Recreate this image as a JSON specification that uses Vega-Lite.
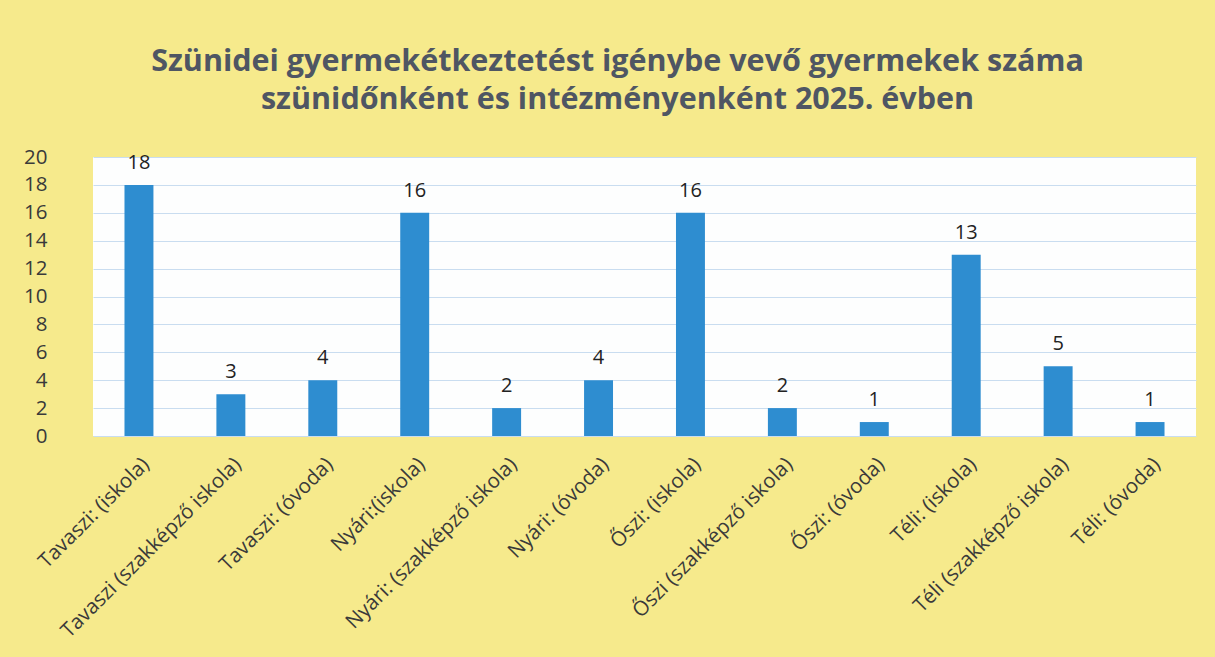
{
  "$schema": "https://vega.github.io/schema/vega-lite/v6.json",
  "width": 1103,
  "height": 279,
  "autosize": {"type": "none"},
  "padding": {"left": 93, "top": 157, "right": 19, "bottom": 221},
  "background": "#F6EA8C",
  "title": {
    "text": ["Szünidei gyermekétkeztetést igénybe vevő gyermekek száma", "szünidőnként és intézményenként 2025. évben"],
    "font": "Open Sans",
    "fontSize": 30.5,
    "fontWeight": "bold",
    "color": "#4F5663",
    "lineHeight": 38,
    "anchor": "middle",
    "dx": -27,
    "offset": 32
  },
  "config": {
    "view": {"fill": "#FDFEFE", "stroke": null},
    "axis": {"labelFont": "Open Sans", "labelFontSize": 20.5, "labelColor": "#3A3A3A"}
  },
  "data": {
    "values": [
      {"kategoria": "Tavaszi: (iskola)", "ertek": 18},
      {"kategoria": "Tavaszi (szakképző iskola)", "ertek": 3},
      {"kategoria": "Tavaszi: (óvoda)", "ertek": 4},
      {"kategoria": "Nyári:(iskola)", "ertek": 16},
      {"kategoria": "Nyári: (szakképző iskola)", "ertek": 2},
      {"kategoria": "Nyári: (óvoda)", "ertek": 4},
      {"kategoria": "Őszi: (iskola)", "ertek": 16},
      {"kategoria": "Őszi (szakképző iskola)", "ertek": 2},
      {"kategoria": "Őszi: (óvoda)", "ertek": 1},
      {"kategoria": "Téli: (iskola)", "ertek": 13},
      {"kategoria": "Téli (szakképző iskola)", "ertek": 5},
      {"kategoria": "Téli: (óvoda)", "ertek": 1}
    ]
  },
  "encoding": {
    "x": {
      "field": "kategoria",
      "type": "nominal",
      "sort": null,
      "scale": {"paddingInner": 0.685, "paddingOuter": 0.3425},
      "axis": {"title": null, "labelAngle": -45, "ticks": false, "domain": false, "labelPadding": 18, "labelLimit": 400}
    },
    "y": {
      "field": "ertek",
      "type": "quantitative",
      "scale": {"domain": [0, 20]},
      "axis": {"title": null, "values": [0, 2, 4, 6, 8, 10, 12, 14, 16, 18, 20], "ticks": false, "domain": false, "labelPadding": 46, "gridColor": "#C9DDF0", "gridWidth": 1.2}
    }
  },
  "layer": [
    {"mark": {"type": "bar", "color": "#2E8DD0"}},
    {
      "mark": {"type": "text", "dy": -22, "font": "Open Sans", "fontSize": 20, "color": "#222222"},
      "encoding": {"text": {"field": "ertek", "type": "quantitative"}}
    }
  ]
}
